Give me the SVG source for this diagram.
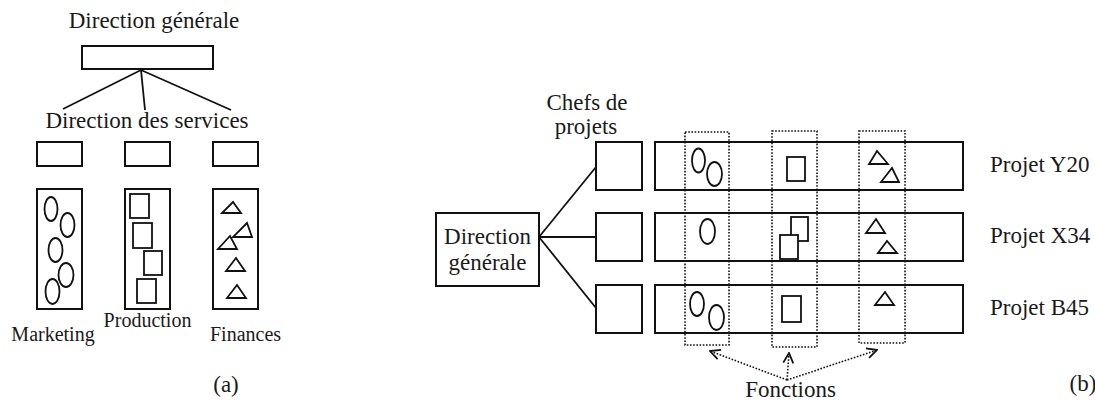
<svg xmlns="http://www.w3.org/2000/svg" width="1095" height="401" viewBox="0 0 1095 401">
<style>
text{font-family:"Liberation Serif","DejaVu Serif",serif;fill:#1a1a1a;font-size:23px}
.m{text-anchor:middle}
.lbl{font-size:20px}
.box{fill:#fff;stroke:#111;stroke-width:2}
.sh{fill:none;stroke:#111;stroke-width:1.8}
.ln{fill:none;stroke:#111;stroke-width:1.8}
.dot{fill:none;stroke:#111;stroke-width:1.6;stroke-dasharray:1.6 1.6}
</style>
<defs>
<marker id="v" viewBox="0 0 12 12" refX="11" refY="6" markerWidth="12" markerHeight="12" markerUnits="userSpaceOnUse" orient="auto">
<path d="M1,1 L11,6 L1,11" fill="none" stroke="#111" stroke-width="1.8" stroke-dasharray="none"/>
</marker>
</defs>

<!-- (a) -->
<g id="a-connectors">
<line class="ln" x1="141" y1="70" x2="63" y2="109"/>
<line class="ln" x1="141" y1="70" x2="145" y2="110"/>
<line class="ln" x1="141" y1="70" x2="231" y2="110"/>
</g>
<g id="a-dg">
<text class="m" x="154" y="28">Direction générale</text>
<rect class="box" x="82" y="46" width="131" height="23"/>
</g>
<text class="m" x="147" y="128">Direction des services</text>
<g id="a-s1"><rect class="box" x="37" y="142" width="45" height="24"/></g>
<g id="a-s2"><rect class="box" x="125" y="142" width="45" height="24"/></g>
<g id="a-s3"><rect class="box" x="213" y="142" width="45" height="24"/></g>
<g id="a-marketing">
<rect class="box" x="37" y="189" width="45" height="120"/>
<ellipse class="sh" cx="51" cy="209" rx="6.5" ry="12"/>
<ellipse class="sh" cx="67.5" cy="225" rx="7" ry="12"/>
<ellipse class="sh" cx="55.5" cy="250" rx="7" ry="12"/>
<ellipse class="sh" cx="66" cy="275" rx="7.5" ry="12"/>
<ellipse class="sh" cx="52.5" cy="291.5" rx="7" ry="12.5"/>
<text class="m lbl" x="53" y="341">Marketing</text>
</g>
<g id="a-production">
<rect class="box" x="125" y="189" width="45" height="120"/>
<rect class="sh" x="130" y="194" width="19" height="24"/>
<rect class="sh" x="133" y="223" width="19" height="25"/>
<rect class="sh" x="144" y="251" width="18" height="24"/>
<rect class="sh" x="137" y="279" width="19" height="24"/>
<text class="m lbl" x="147.5" y="327">Production</text>
</g>
<g id="a-finances">
<rect class="box" x="213" y="189" width="45" height="120"/>
<polygon class="sh" points="222,213 241,213 233,202"/>
<polygon class="sh" points="233,237 252,237 247,223"/>
<polygon class="sh" points="218,249 237,249 230,236"/>
<polygon class="sh" points="226,271 245,271 236,258"/>
<polygon class="sh" points="227,298 246,298 237,285"/>
<text class="m lbl" x="245.5" y="341">Finances</text>
</g>
<text class="m" x="226" y="392">(a)</text>

<!-- (b) -->
<g id="b-connectors">
<line class="ln" x1="539" y1="237" x2="596" y2="167"/>
<line class="ln" x1="539" y1="237" x2="596" y2="237"/>
<line class="ln" x1="539" y1="237" x2="596" y2="308"/>
<line class="dot" x1="787" y1="380" x2="710" y2="351" marker-end="url(#v)"/>
<line class="dot" x1="787" y1="380" x2="789" y2="353" marker-end="url(#v)"/>
<line class="dot" x1="787" y1="380" x2="877" y2="350" marker-end="url(#v)"/>
</g>
<g id="b-dg">
<rect class="box" x="436" y="213" width="103" height="73"/>
<text class="m" x="487.5" y="244">Direction</text>
<text class="m" x="487.5" y="270">générale</text>
</g>
<g id="b-chefs-label">
<text class="m" x="587" y="110">Chefs de</text>
<text class="m" x="586" y="134">projets</text>
</g>
<g id="b-c1"><rect class="box" x="596" y="142" width="46" height="48"/></g>
<g id="b-c2"><rect class="box" x="596" y="213" width="46" height="48"/></g>
<g id="b-c3"><rect class="box" x="596" y="285" width="46" height="48"/></g>

<g id="b-y20">
<rect class="box" x="655" y="142" width="308" height="48"/>
<ellipse class="sh" cx="698.5" cy="160.5" rx="6.5" ry="12"/>
<ellipse class="sh" cx="714.5" cy="174" rx="7.5" ry="12"/>
<rect class="sh" x="787" y="157" width="18" height="24"/>
<polygon class="sh" points="869,164 888,164 877,151"/>
<polygon class="sh" points="881,182 899,182 892,168"/>
<text x="990" y="172">Projet Y20</text>
</g>
<g id="b-x34">
<rect class="box" x="655" y="213" width="308" height="48"/>
<ellipse class="sh" cx="707.5" cy="231.5" rx="7.5" ry="12.5"/>
<rect class="sh" x="791" y="217" width="17" height="24"/>
<rect class="sh" x="780" y="235" width="18" height="24" fill="#fff" style="fill:#fff"/>
<polygon class="sh" points="866,233 885,233 876,219"/>
<polygon class="sh" points="878,253 897,253 887,241"/>
<text x="990" y="243">Projet X34</text>
</g>
<g id="b-b45">
<rect class="box" x="655" y="285" width="308" height="48"/>
<ellipse class="sh" cx="697" cy="304" rx="7" ry="12"/>
<ellipse class="sh" cx="716.5" cy="317.5" rx="7.5" ry="12.5"/>
<rect class="sh" x="782" y="296" width="19" height="26"/>
<polygon class="sh" points="875,305 894,305 885,292"/>
<text x="990" y="315">Projet B45</text>
</g>
<g id="b-fonctions">
<rect class="dot" x="685" y="132" width="44" height="213"/>
<rect class="dot" x="772" y="131" width="45" height="216"/>
<rect class="dot" x="859" y="131" width="46" height="212"/>
<text class="m" x="790.5" y="397">Fonctions</text>
</g>
<text class="m" x="1083" y="391">(b)</text>
</svg>
